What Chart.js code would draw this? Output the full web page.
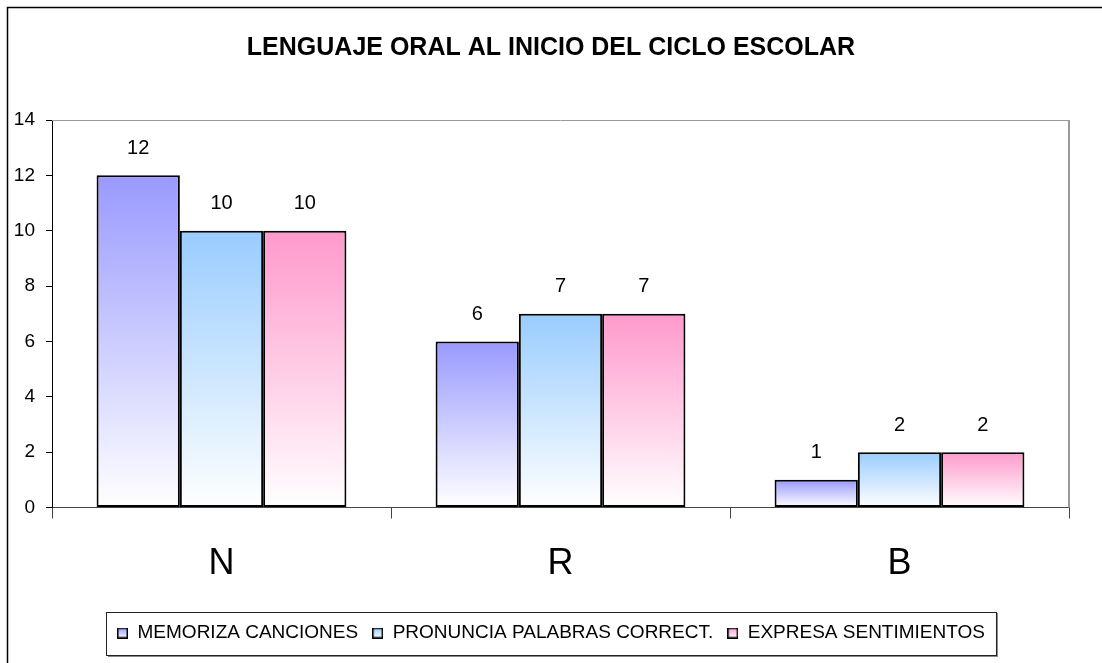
<!DOCTYPE html>
<html>
<head>
<meta charset="utf-8">
<script src="https://cdn.jsdelivr.net/npm/chart.js@4.4.1/dist/chart.umd.min.js"></script>
<style>
  html, body { margin: 0; padding: 0; background: #fff; }
</style>
</head>
<body>
<canvas id="chart" width="1102" height="663"></canvas>
<script>
const categories = ['N', 'R', 'B'];
const seriesNames = ['MEMORIZA CANCIONES', 'PRONUNCIA PALABRAS CORRECT.', 'EXPRESA SENTIMIENTOS'];
const memorizaCanciones = [12, 6, 1];
const pronunciaPalabras = [10, 7, 2];
const expresaSentimientos = [10, 7, 2];
const yTicks = [0, 2, 4, 6, 8, 10, 12, 14];

const topColors = ['#9999ff', '#99ccff', '#ff99cc'];
const FONT = '"Liberation Sans", Arial, sans-serif';
Chart.defaults.font.family = FONT;
Chart.defaults.color = '#000';

// bar fill: colour at the top of each bar fading to white at its base
function barFill(i) {
    return (ctx) => {
        const chart = ctx.chart;
        const y = chart.scales.y;
        if (!chart.chartArea || !y || ctx.raw === undefined) return topColors[i];
        const top = y.getPixelForValue(ctx.raw);
        const base = y.getPixelForValue(0);
        const g = chart.ctx.createLinearGradient(0, top, 0, base);
        g.addColorStop(0, topColors[i]);
        g.addColorStop(1, '#ffffff');
        return g;
    };
}

// small gradient squares for the legend
function marker(color) {
    const c = document.createElement('canvas');
    c.width = 11; c.height = 11;
    const x = c.getContext('2d');
    const g = x.createLinearGradient(0, 0, 0, 11);
    g.addColorStop(0, color);
    g.addColorStop(1, '#ffffff');
    x.fillStyle = g;
    x.fillRect(0, 0, 11, 11);
    x.strokeStyle = '#000';
    x.lineWidth = 1.5;
    x.strokeRect(0.75, 0.75, 9.5, 9.5);
    return c;
}
const markers = topColors.map(marker);

const frame = {
    id: 'frame',
    beforeDraw(chart) {
        const c = chart.ctx;
        c.save();
        c.fillStyle = '#fff';
        c.fillRect(0, 0, chart.width, chart.height);
        c.strokeStyle = '#000';
        c.lineWidth = 1.5;
        c.beginPath();
        c.moveTo(7.5, chart.height + 2);
        c.lineTo(7.5, 7.5);
        c.lineTo(chart.width + 2, 7.5);
        c.stroke();
        c.restore();
    },
    beforeDatasetsDraw(chart) {
        const a = chart.chartArea, c = chart.ctx;
        c.save();
        c.strokeStyle = '#9a9a9a';
        c.lineWidth = 1;
        c.beginPath();
        c.moveTo(a.left, a.top + 0.5);
        c.lineTo(a.right, a.top + 0.5);
        c.stroke();
        c.lineWidth = 2;
        c.beginPath();
        c.moveTo(a.right, a.top);
        c.lineTo(a.right, a.bottom);
        c.stroke();
        c.restore();
    },
    afterDatasetsDraw(chart) {
        const c = chart.ctx;
        c.save();
        c.font = '20px ' + FONT;
        c.fillStyle = '#000';
        c.textAlign = 'center';
        c.textBaseline = 'middle';
        chart.data.datasets.forEach((ds, i) => {
            chart.getDatasetMeta(i).data.forEach((bar, j) => {
                c.fillText(String(ds.data[j]), bar.x, bar.y - 27);
            });
        });
        c.restore();
    },
    afterDraw(chart) {
        const hb = chart.legend.legendHitBoxes;
        if (!hb || !hb.length) return;
        const left = hb[0].left - 11;
        const last = hb[hb.length - 1];
        const right = last.left + last.width + 11;
        const cy = hb[0].top + hb[0].height / 2;
        const c = chart.ctx;
        c.save();
        c.strokeStyle = '#888';
        c.lineWidth = 2;
        c.beginPath();
        c.moveTo(left + 2, cy + 23);
        c.lineTo(right + 1, cy + 23);
        c.lineTo(right + 1, cy - 20);
        c.stroke();
        c.strokeStyle = '#222';
        c.lineWidth = 1;
        c.strokeRect(Math.round(left) + 0.5, Math.round(cy - 21.5) + 0.5, Math.round(right - left), 43);
        c.restore();
    }
};

new Chart(document.getElementById('chart'), {
    type: 'bar',
    data: {
        labels: categories,
        datasets: [
            { label: seriesNames[0], data: memorizaCanciones, backgroundColor: barFill(0) },
            { label: seriesNames[1], data: pronunciaPalabras, backgroundColor: barFill(1) },
            { label: seriesNames[2], data: expresaSentimientos, backgroundColor: barFill(2) }
        ]
    },
    options: {
        responsive: false,
        animation: false,
        events: [],
        datasets: {
            bar: {
                borderColor: '#000',
                borderWidth: 2,
                borderSkipped: false,
                barPercentage: 1,
                categoryPercentage: 0.737
            }
        },
        layout: { padding: { left: 0, right: 0, top: 0, bottom: 10.5 } },
        plugins: {
            title: {
                display: true,
                text: 'LENGUAJE ORAL AL INICIO DEL CICLO ESCOLAR',
                color: '#000',
                font: { size: 25, weight: 'bold' },
                padding: { top: 33, bottom: 57 }
            },
            legend: {
                position: 'bottom',
                labels: {
                    usePointStyle: true,
                    boxWidth: 11,
                    boxHeight: 11,
                    padding: 14,
                    color: '#000',
                    font: { size: 19 },
                    generateLabels: (chart) => chart.data.datasets.map((ds, i) => ({
                        text: ds.label,
                        fillStyle: topColors[i],
                        strokeStyle: '#000',
                        lineWidth: 1,
                        pointStyle: markers[i],
                        hidden: false,
                        datasetIndex: i,
                        fontColor: '#000'
                    }))
                }
            },
            tooltip: { enabled: false }
        },
        scales: {
            x: {
                grid: { offset: true, drawOnChartArea: false, tickLength: 11, color: '#444' },
                border: { color: '#444', width: 1 },
                ticks: { font: { size: 36 }, padding: 24, color: '#000' },
                afterFit: (s) => { s.height = 102; }
            },
            y: {
                min: 0,
                max: 14,
                afterBuildTicks: (s) => { s.ticks = yTicks.map(v => ({ value: v })); },
                grid: { drawOnChartArea: false, tickLength: 6, color: '#000' },
                border: { color: '#000', width: 1 },
                ticks: { font: { size: 19 }, padding: 11, color: '#000' },
                afterFit: (s) => { s.width = 52; }
            },
            yRight: {
                position: 'right',
                display: true,
                grid: { display: false },
                border: { display: false },
                ticks: { display: false },
                afterFit: (s) => { s.width = 33; }
            }
        }
    },
    plugins: [frame]
});
</script>
</body>
</html>
